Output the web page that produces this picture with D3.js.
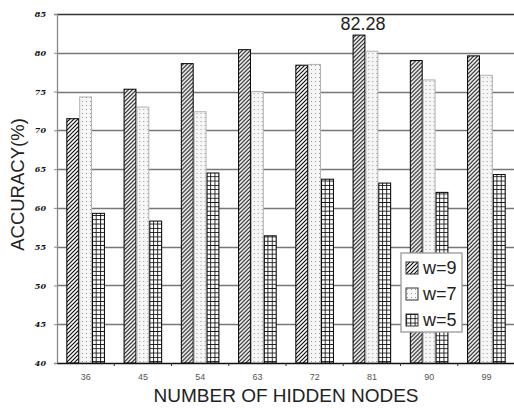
<!DOCTYPE html>
<html>
<head>
<meta charset="utf-8">
<script src="https://cdn.jsdelivr.net/npm/d3@7"></script>
<style>
  body { margin: 0; background: #fff; }
  svg { display: block; }
</style>
</head>
<body>
<div id="chart"></div>
<script>
// data
const nodes = ['36', '45', '54', '63', '72', '81', '90', '99'];
const seriesNames = ['w=9', 'w=7', 'w=5'];
const w9 = [71.5, 75.3, 78.6, 80.4, 78.4, 82.28, 79.0, 79.6];
const w7 = [74.3, 73.0, 72.4, 75.0, 78.5, 80.2, 76.5, 77.1];
const w5 = [59.3, 58.3, 64.5, 56.4, 63.7, 63.2, 62.0, 64.3];
const yTicks = [40, 45, 50, 55, 60, 65, 70, 75, 80, 85];

const width = 514, height = 408;
const margin = { top: 14, right: -1, bottom: 45, left: 57 };

const svg = d3.select('#chart')
  .append('svg')
  .attr('width', width)
  .attr('height', height);

// fill patterns for the three series
const defs = svg.append('defs');

const hatch = defs.append('pattern')
  .attr('id', 'hatch')
  .attr('patternUnits', 'userSpaceOnUse')
  .attr('width', 4).attr('height', 4);
hatch.append('rect').attr('width', 4).attr('height', 4).attr('fill', '#fff');
hatch.append('path')
  .attr('d', 'M-1,1 L1,-1 M0,4 L4,0 M3,5 L5,3')
  .attr('stroke', '#111')
  .attr('stroke-width', 1.2);

const dots = defs.append('pattern')
  .attr('id', 'dots')
  .attr('patternUnits', 'userSpaceOnUse')
  .attr('width', 4).attr('height', 4);
dots.append('rect').attr('width', 4).attr('height', 4).attr('fill', '#f6f6f6');
dots.append('rect').attr('x', 1).attr('y', 1).attr('width', 1).attr('height', 1).attr('fill', '#9a9a9a');

const grid = defs.append('pattern')
  .attr('id', 'grid')
  .attr('patternUnits', 'userSpaceOnUse')
  .attr('width', 4.3).attr('height', 4.3);
grid.append('rect').attr('width', 4.3).attr('height', 4.3).attr('fill', '#fff');
grid.append('path')
  .attr('d', 'M0,0.5 H4.3 M0.5,0 V4.3')
  .attr('stroke', '#111')
  .attr('stroke-width', 0.9);

const fills = ['url(#hatch)', 'url(#dots)', 'url(#grid)'];
const strokes = ['#000', '#b0b0b0', '#000'];

const x0 = d3.scaleBand()
  .domain(nodes)
  .range([margin.left, width - margin.right])
  .paddingInner(0)
  .paddingOuter(0);

const x1 = d3.scaleBand()
  .domain(seriesNames)
  .range([x0.bandwidth() * 0.163, x0.bandwidth() * 0.837]);

const y = d3.scaleLinear()
  .domain([40, 85])
  .range([height - margin.bottom, margin.top]);

// horizontal gridlines
svg.append('g')
  .selectAll('line')
  .data(yTicks.filter(t => t > 40))
  .join('line')
  .attr('x1', margin.left)
  .attr('x2', width)
  .attr('y1', d => Math.round(y(d)) + 0.5)
  .attr('y2', d => Math.round(y(d)) + 0.5)
  .attr('stroke', d => d === 85 ? '#333' : '#777')
  .attr('stroke-width', 1.3);

// bars
const series = [w9, w7, w5];
const groups = svg.append('g')
  .selectAll('g')
  .data(nodes)
  .join('g')
  .attr('transform', d => `translate(${x0(d)},0)`);

groups.selectAll('rect')
  .data((d, i) => seriesNames.map((s, k) => ({ s, k, v: series[k][i] })))
  .join('rect')
  .attr('x', d => x1(d.s) + 0.5)
  .attr('y', d => y(d.v))
  .attr('width', x1.bandwidth() - 1)
  .attr('height', d => y(40) - y(d.v))
  .attr('fill', d => fills[d.k])
  .attr('stroke', d => strokes[d.k])
  .attr('stroke-width', 1);

// annotation of the maximum
const maxIdx = w9.indexOf(d3.max(w9));
svg.append('text')
  .attr('x', x0(nodes[maxIdx]) + x1('w=9') + x1.bandwidth() / 2 + 4)
  .attr('y', y(w9[maxIdx]) - 5)
  .attr('text-anchor', 'middle')
  .attr('font-family', 'Liberation Sans, Arial, sans-serif')
  .attr('font-size', 18)
  .attr('fill', '#222')
  .text('82.28');

// y axis
const yAxis = svg.append('g')
  .attr('transform', `translate(${margin.left},0)`)
  .call(d3.axisLeft(y).tickValues(yTicks).tickSize(3).tickPadding(8));
yAxis.select('.domain').attr('stroke', '#888').attr('stroke-width', 1.3);
yAxis.selectAll('.tick line').attr('stroke', '#888');
yAxis.selectAll('text')
  .attr('font-family', 'DejaVu Serif, serif')
  .attr('font-style', 'italic')
  .attr('font-weight', 'bold')
  .attr('font-size', 8)
  .attr('fill', '#111');

// x axis
const xAxis = svg.append('g')
  .attr('transform', `translate(0,${height - margin.bottom})`)
  .call(d3.axisBottom(x0).tickSize(0).tickPadding(11));
xAxis.select('.domain').attr('stroke', '#111').attr('stroke-width', 1.3);
xAxis.selectAll('text')
  .attr('font-family', 'Liberation Sans, Arial, sans-serif')
  .attr('font-size', 9)
  .attr('fill', '#555');
// small ticks between groups
svg.append('g')
  .selectAll('line')
  .data(nodes.slice(1))
  .join('line')
  .attr('x1', d => x0(d))
  .attr('x2', d => x0(d))
  .attr('y1', height - margin.bottom)
  .attr('y2', height - margin.bottom + 3)
  .attr('stroke', '#333');

// axis titles
svg.append('text')
  .attr('transform', `translate(24,${(margin.top + height - margin.bottom) / 2 - 4}) rotate(-90)`)
  .attr('text-anchor', 'middle')
  .attr('font-family', 'Liberation Sans, Arial, sans-serif')
  .attr('font-size', 18.5)
  .attr('fill', '#222')
  .text('ACCURACY(%)');

svg.append('text')
  .attr('x', 286)
  .attr('y', 402)
  .attr('text-anchor', 'middle')
  .attr('font-family', 'Liberation Sans, Arial, sans-serif')
  .attr('font-size', 19)
  .attr('fill', '#222')
  .text('NUMBER OF HIDDEN NODES');

// legend
const legend = svg.append('g').attr('transform', 'translate(401,253)');
legend.append('rect')
  .attr('width', 61)
  .attr('height', 79)
  .attr('fill', '#fff')
  .attr('stroke', '#999')
  .attr('stroke-width', 1.3);

const item = legend.selectAll('g.item')
  .data(seriesNames)
  .join('g')
  .attr('class', 'item')
  .attr('transform', (d, i) => `translate(5,${9 + i * 26})`);
item.append('rect')
  .attr('width', 12)
  .attr('height', 12)
  .attr('fill', (d, i) => fills[i])
  .attr('stroke', '#333');
item.append('text')
  .attr('x', 17)
  .attr('y', 6)
  .attr('dominant-baseline', 'central')
  .attr('font-family', 'Liberation Sans, Arial, sans-serif')
  .attr('font-size', 18)
  .attr('fill', '#222')
  .text(d => d);
</script>
</body>
</html>
